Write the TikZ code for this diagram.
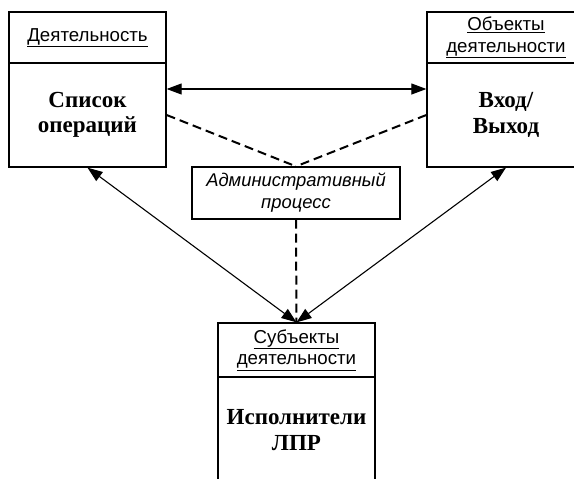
\documentclass[tikz,border=0pt]{standalone}
\usepackage{fontspec}
\setmainfont{Liberation Serif}
\setsansfont{Liberation Sans}
\usetikzlibrary{arrows.meta}
\tikzset{
  x=1pt, y=-1pt,
  boxpart/.style={draw=black, line width=1.3pt, minimum width=157pt, inner sep=0pt, align=center},
  hdr/.style={boxpart, font=\sffamily\fontsize{18.7}{21.5}\selectfont},
  bodytxt/.style={boxpart, font=\rmfamily\bfseries\fontsize{23}{25.5}\selectfont},
  admin/.style={draw=black, line width=1.3pt, minimum width=208pt, minimum height=52pt, inner sep=0pt, align=center, font=\sffamily\itshape\fontsize{18.4}{22}\selectfont},
  dash line/.style={line width=2pt, dash pattern=on 9pt off 5pt},
  dbl/.style={line width=1.1pt, {Triangle[length=15pt,width=11pt]}-{Triangle[length=15pt,width=11pt]}},
}
\begin{document}
\begin{tikzpicture}
\clip (0,0) rectangle (574,479);
\fill[white] (0,0) rectangle (574,479);
% left box
\node[hdr, minimum height=51pt] (lh) at (87.5,37.5) {\underline{Деятельность}};
\node[bodytxt, minimum height=104pt] (lb) at (87.5,115) {Список\\операций};
% right box
\node[hdr, minimum height=51pt, minimum width=158pt] (rh) at (506,37.5) {\underline{Объекты}\\\underline{деятельности}};
\node[bodytxt, minimum height=104pt, minimum width=158pt] (rb) at (506,115) {Вход/\\Выход};
% bottom box
\node[hdr, minimum height=54pt] (bh) at (296.5,350) {\underline{Субъекты}\\\underline{деятельности}};
\node[bodytxt, minimum height=106pt] (bb) at (296.5,430) {Исполнители\\ЛПР};
% admin
\node[admin] (ad) at (296,193) {Административный\\процесс};
% connectors
\draw[dbl] ([yshift=26pt]lb.east) -- ([yshift=26pt]rb.west);
\draw[dash line] (lb.east) -- (ad.north);
\draw[dash line] (rb.west) -- (ad.north);
\draw[dash line] (ad.south) -- (bh.north);
\draw[dbl] (lb.south) -- (bh.north);
\draw[dbl] (rb.south) -- (bh.north);
\end{tikzpicture}
\end{document}
